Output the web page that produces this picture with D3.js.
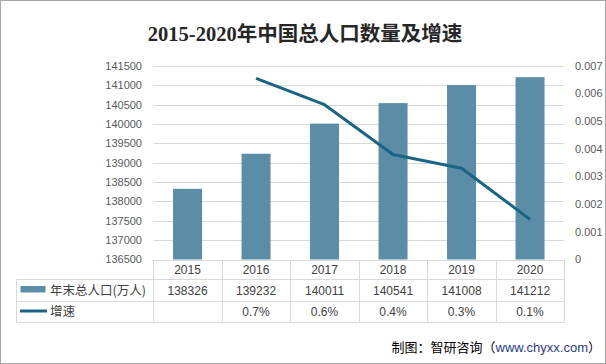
<!DOCTYPE html>
<html>
<head>
<meta charset="utf-8">
<script src="https://cdn.jsdelivr.net/npm/d3@7.9.0/dist/d3.min.js"></script>
<style>
  html, body { margin: 0; padding: 0; background: #fff; }
  svg { display: block; }
</style>
</head>
<body>
<svg id="chart" width="606" height="364"></svg>
<script>
// chart data
const years = ['2015', '2016', '2017', '2018', '2019', '2020'];
const population = [138326, 139232, 140011, 140541, 141008, 141212];
const growth = [null, 0.00655, 0.0056, 0.0038, 0.0033, 0.00145];
const leftTicks = [136500, 137000, 137500, 138000, 138500, 139000, 139500, 140000, 140500, 141000, 141500];
const rightTicks = [0, 0.001, 0.002, 0.003, 0.004, 0.005, 0.006, 0.007];

const W = 606, H = 364;
const barColor = '#5b8ea6';
const lineColor = '#1a6585';
const textColor = '#404040';
const axisColor = '#595959';
const gridColor = '#d9d9d9';

const svg = d3.select('#chart');

// outer border
svg.append('rect')
  .attr('x', 0.5).attr('y', 0.5)
  .attr('width', W - 1).attr('height', H - 1)
  .attr('fill', '#fff').attr('stroke', '#a6a6a6');

// title
svg.append('text')
  .attr('x', 305).attr('y', 41)
  .attr('text-anchor', 'middle')
  .style('font-family', '"Liberation Serif", "Noto Sans CJK SC", serif')
  .style('font-size', '20.5px')
  .style('font-weight', 'bold')
  .attr('fill', '#262626')
  .text('2015-2020年中国总人口数量及增速');

// scales
const x = d3.scaleBand().domain(years).range([153.3, 564.3]).paddingInner(0).paddingOuter(0);
const yL = d3.scaleLinear().domain([136500, 141500]).range([259.5, 66]);
const yR = d3.scaleLinear().domain([0, 0.007]).range([259.5, 66]);

// gridlines
svg.append('g').selectAll('line')
  .data(leftTicks.slice(1))
  .join('line')
  .attr('x1', x.range()[0]).attr('x2', x.range()[1])
  .attr('y1', d => Math.round(yL(d)) + 0.5).attr('y2', d => Math.round(yL(d)) + 0.5)
  .attr('stroke', gridColor);

// left axis labels
svg.append('g').selectAll('text')
  .data(leftTicks)
  .join('text')
  .attr('x', 142).attr('y', d => yL(d))
  .attr('dy', '0.35em')
  .attr('text-anchor', 'end')
  .style('font-family', 'Arial, "Liberation Sans", sans-serif')
  .style('font-size', '11px')
  .attr('fill', axisColor)
  .text(d => d);

// right axis labels
svg.append('g').selectAll('text')
  .data(rightTicks)
  .join('text')
  .attr('x', 575).attr('y', d => yR(d))
  .attr('dy', '0.35em')
  .attr('text-anchor', 'start')
  .style('font-family', 'Arial, "Liberation Sans", sans-serif')
  .style('font-size', '11px')
  .attr('fill', axisColor)
  .text(d => d === 0 ? '0' : d3.format('.3f')(d));

// bars
const barW = 29;
svg.append('g').selectAll('rect')
  .data(population)
  .join('rect')
  .attr('x', (d, i) => x(years[i]) + x.bandwidth() / 2 - barW / 2)
  .attr('y', d => yL(d))
  .attr('width', barW)
  .attr('height', d => yL(136500) - yL(d))
  .attr('fill', barColor);

// growth line
const pts = growth.map((g, i) => [x(years[i]) + x.bandwidth() / 2, g]).filter(p => p[1] != null);
svg.append('path')
  .datum(pts)
  .attr('fill', 'none')
  .attr('stroke', lineColor)
  .attr('stroke-width', 3)
  .attr('stroke-linejoin', 'round')
  .attr('d', d3.line().x(p => p[0]).y(p => yR(p[1])));

// data table
const rowY = [260, 279.5, 301.5, 322.5];
const tableLeft = 16.5;
const tbl = svg.append('g').attr('stroke', gridColor).attr('stroke-width', 1);
// header row (years) top line = axis line
tbl.append('line')
  .attr('x1', x.range()[0]).attr('x2', x.range()[1])
  .attr('y1', rowY[0] + 0.5).attr('y2', rowY[0] + 0.5);
[rowY[1], rowY[2], rowY[3]].forEach(yy => {
  tbl.append('line')
    .attr('x1', tableLeft).attr('x2', x.range()[1])
    .attr('y1', yy).attr('y2', yy);
});
// vertical lines
years.forEach((yr, i) => {
  tbl.append('line')
    .attr('x1', Math.round(x(yr)) + 0.5).attr('x2', Math.round(x(yr)) + 0.5)
    .attr('y1', rowY[0]).attr('y2', rowY[3]);
});
tbl.append('line')
  .attr('x1', Math.round(x.range()[1]) + 0.5).attr('x2', Math.round(x.range()[1]) + 0.5)
  .attr('y1', rowY[0]).attr('y2', rowY[3]);
tbl.append('line')
  .attr('x1', tableLeft).attr('x2', tableLeft)
  .attr('y1', rowY[1]).attr('y2', rowY[3]);

const cellFont = 'Arial, "Liberation Sans", "Noto Sans CJK SC", sans-serif';
const rowMid = [(rowY[0] + rowY[1]) / 2, (rowY[1] + rowY[2]) / 2, (rowY[2] + rowY[3]) / 2];

function cellText(arr, yy, fmt) {
  svg.append('g').selectAll('text')
    .data(arr)
    .join('text')
    .attr('x', (d, i) => x(years[i]) + x.bandwidth() / 2)
    .attr('y', yy)
    .attr('dy', '0.35em')
    .attr('text-anchor', 'middle')
    .style('font-family', cellFont)
    .style('font-size', '12px')
    .attr('fill', textColor)
    .text(fmt);
}
cellText(years, rowMid[0], d => d);
cellText(population, rowMid[1], d => d);
cellText(growth, rowMid[2], d => d == null ? '' : d3.format('.1%')(d));

// legend keys in table
svg.append('rect')
  .attr('x', 20.5).attr('y', 286).attr('width', 25).attr('height', 6.5)
  .attr('fill', barColor);
svg.append('text')
  .attr('x', 50).attr('y', rowMid[1]).attr('dy', '0.35em')
  .style('font-family', '"Noto Sans CJK SC", sans-serif')
  .style('font-size', '12.5px')
  .attr('fill', textColor)
  .text('年末总人口(万人)');
svg.append('line')
  .attr('x1', 20).attr('x2', 47).attr('y1', 311).attr('y2', 311)
  .attr('stroke', lineColor).attr('stroke-width', 3);
svg.append('text')
  .attr('x', 50).attr('y', rowMid[2]).attr('dy', '0.35em')
  .style('font-family', '"Noto Sans CJK SC", sans-serif')
  .style('font-size', '12.5px')
  .attr('fill', textColor)
  .text('增速');

// source note
const src = svg.append('text')
  .attr('x', 601).attr('y', 352)
  .attr('text-anchor', 'end')
  .style('font-family', '"Noto Sans CJK SC", sans-serif')
  .style('font-size', '13px')
  .attr('fill', '#000');
src.append('tspan').text('制图：智研咨询（');
src.append('tspan').attr('fill', '#1f3a8a').style('font-family', 'Arial, "Liberation Sans", sans-serif').text('www.chyxx.com');
src.append('tspan').text('）');
</script>
</body>
</html>
